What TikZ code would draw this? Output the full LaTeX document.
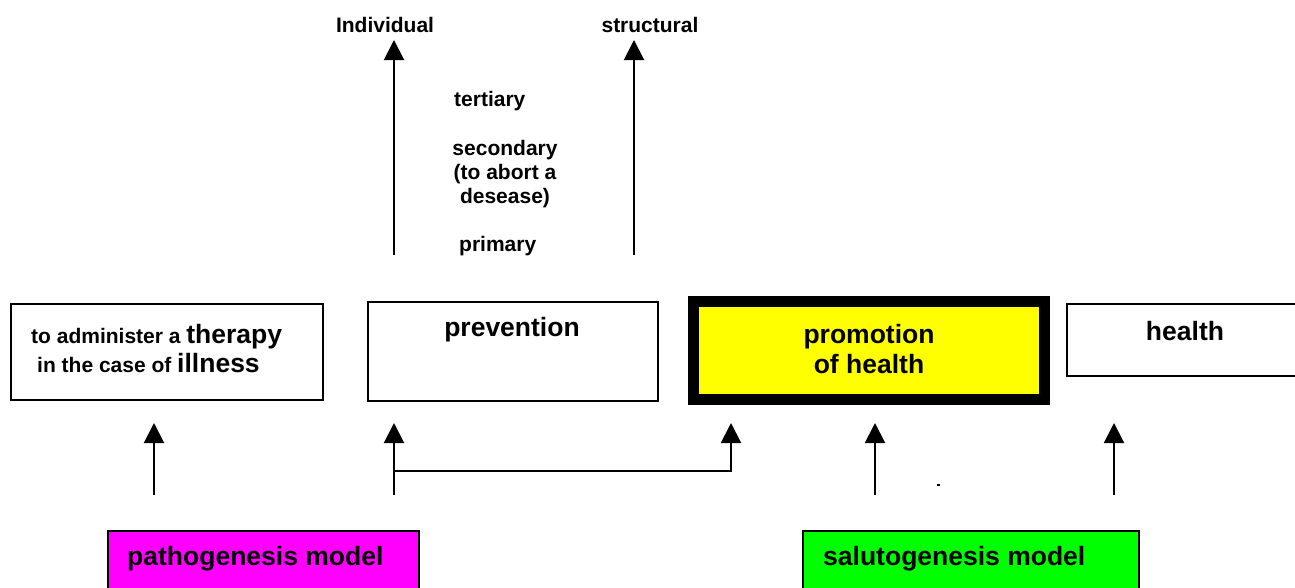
\documentclass[tikz,border=0pt]{standalone}
\usepackage{fontspec}
\setmainfont{Liberation Sans}
\usetikzlibrary{arrows.meta}
\definecolor{pmag}{RGB}{255,0,255}
\definecolor{pyel}{RGB}{255,255,0}
\definecolor{pgrn}{RGB}{0,255,0}
\begin{document}
\begin{tikzpicture}[x=1pt,y=-1pt,
  box/.style={draw=black,line width=2pt,inner sep=0pt},
  arr/.style={line width=2pt,-{Triangle[width=20pt,length=20pt]}},
  sm/.style={font=\bfseries\fontsize{21}{24}\selectfont, inner sep=0pt},
  lg/.style={font=\bfseries\fontsize{26.5}{30}\selectfont, inner sep=0pt}]
\clip (0,0) rectangle (1295,587);
\fill[white] (0,0) rectangle (1295,587);
% boxes
\node[box, minimum width=312pt, minimum height=96pt, anchor=north west] (therapy) at (10,303) {};
\node[box, minimum width=290pt, minimum height=99pt, anchor=north west] (prev) at (367,301) {};
\node[box, fill=pyel, line width=11pt, minimum width=351pt, minimum height=98pt] (promo) at (869,350.5) {};
\node[box, minimum width=244pt, minimum height=72pt, anchor=north west] (health) at (1066,303) {};
\node[box, fill=pmag, minimum width=311pt, minimum height=70pt, anchor=north west] (patho) at (107,530) {};
\node[box, fill=pgrn, minimum width=336pt, minimum height=70pt, anchor=north west] (saluto) at (802,530) {};
% box texts
\node[sm, anchor=base west] (ther1) at (31,343) {to administer a \fontsize{26.5}{30}\selectfont therapy};
\node[sm, anchor=base west] (ther2) at (37,372) {in the case of \fontsize{26.5}{30}\selectfont illness};
\node[lg, anchor=base] (prevt) at (512,336) {prevention};
\node[lg, anchor=base] (promt1) at (869,343) {promotion};
\node[lg, anchor=base] (promt2) at (869,373) {of health};
\node[lg, anchor=base] (healtht) at (1185,340) {health};
\node[lg, anchor=base west] (pathot) at (127,565) {pathogenesis model};
\node[lg, anchor=base west] (salutot) at (823,565) {salutogenesis model};
% top labels
\node[sm, anchor=base] (indiv) at (385,32) {Individual};
\node[sm, anchor=base] (struct) at (650,32) {structural};
\node[sm, anchor=base west] (tert) at (454,106) {tertiary};
\node[sm, anchor=base] (sec1) at (505,155) {secondary};
\node[sm, anchor=base] (sec2) at (505,179) {(to abort a};
\node[sm, anchor=base] (sec3) at (505,203) {desease)};
\node[sm, anchor=base west] (prim) at (459,251) {primary};
% coordinates
\coordinate (u1b) at (394,255); \coordinate (u1t) at (394,40);
\coordinate (u2b) at (634,255); \coordinate (u2t) at (634,40);
\coordinate (b1b) at (154,495); \coordinate (b1t) at (154,423);
\coordinate (b2b) at (394,495); \coordinate (b2t) at (394,423);
\coordinate (j1) at (394,471); \coordinate (b3t) at (731,423);
\coordinate (b4b) at (875,495); \coordinate (b4t) at (875,423);
\coordinate (b5b) at (1114,495); \coordinate (b5t) at (1114,423);
% arrows
\draw[arr] (u1b) -- (u1t);
\draw[arr] (u2b) -- (u2t);
\draw[arr] (b1b) -- (b1t);
\draw[arr] (b2b) -- (b2t);
\draw[arr] (j1) -| (b3t);
\draw[arr] (b4b) -- (b4t);
\draw[arr] (b5b) -- (b5t);
\node[fill=black, inner sep=0pt, minimum width=3pt, minimum height=2pt] (dot) at (938,485) {};
\end{tikzpicture}
\end{document}
